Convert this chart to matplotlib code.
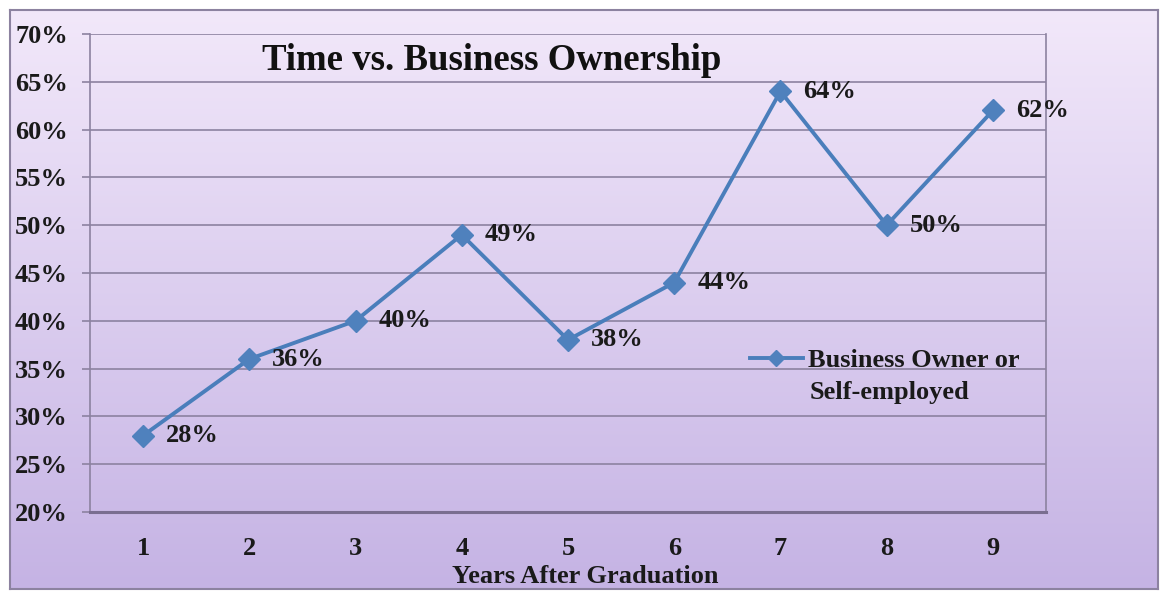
import numpy as np
import matplotlib
matplotlib.use('Agg')
import matplotlib.pyplot as plt
from matplotlib.ticker import FuncFormatter

plt.rcParams['font.family'] = 'Liberation Serif'
plt.rcParams['font.weight'] = 'bold'

# years after graduation vs. share who own a business
years = [1, 2, 3, 4, 5, 6, 7, 8, 9]
owners = [28, 36, 40, 49, 38, 44, 64, 50, 62]
series_name = 'Business Owner or'
series_name2 = 'Self-employed'

W, H = 1162, 594
fig = plt.figure(figsize=(W / 100, H / 100), dpi=100)
fig.patch.set_facecolor('white')

# lavender gradient behind the whole chart
bg = fig.add_axes([10 / W, 5 / H, 1148 / W, 579 / H])
grad = np.linspace(0, 1, 256).reshape(-1, 1)
top = np.array([242, 232, 250]) / 255
bottom = np.array([197, 179, 228]) / 255
img = top + (bottom - top) * grad[:, :, None]
bg.imshow(img, aspect='auto', extent=[0, 1, 0, 1], origin='upper')
bg.set_xticks([])
bg.set_yticks([])
for s in bg.spines.values():
    s.set_color('#8c82a0')
    s.set_linewidth(1.5)

ax = fig.add_axes([90 / W, 82 / H, 956 / W, 478 / H])
ax.set_facecolor('none')
ax.plot(years, owners, color='#4a7ebb', linewidth=2.8, marker='D',
        markersize=11, markerfacecolor='#4f81bd', markeredgecolor='#4f81bd',
        label=series_name, zorder=3)

for x, y in zip(years, owners):
    ax.annotate(f'{y}%', (x, y), xytext=(23, 0), textcoords='offset pixels',
                va='center', ha='left', fontsize=19, color='#1a1a1a')

ax.set_xlim(0.5, 9.5)
ax.set_ylim(20, 70)
ax.set_xticks(years)
ax.set_yticks(range(20, 71, 5))
ax.yaxis.set_major_formatter(FuncFormatter(lambda v, p: f'{v:.0f}%'))
ax.tick_params(axis='y', length=6, width=1.2, color='#8c82a0', pad=10,
               labelsize=19, labelcolor='#1a1a1a')
ax.tick_params(axis='x', length=0, pad=18, labelsize=19, labelcolor='#1a1a1a')
ax.grid(axis='y', color='#8c82a0', linewidth=1.2)
ax.set_axisbelow(True)

ax.spines['left'].set_color('#8c82a0')
ax.spines['left'].set_linewidth(1.2)
ax.spines['right'].set_color('#8c82a0')
ax.spines['right'].set_linewidth(1.2)
ax.spines['top'].set_visible(False)
ax.spines['bottom'].set_color('#7a6e90')
ax.spines['bottom'].set_linewidth(2.2)

fig.text(492 / W, 1 - 70 / H, 'Time vs. Business Ownership', ha='center',
         va='baseline', fontsize=26.5, color='#111111')
fig.text(585 / W, 1 - 583 / H, 'Years After Graduation', ha='center',
         va='baseline', fontsize=19, color='#1a1a1a')

leg = ax.legend(loc='center left', bbox_to_anchor=(750 / W, 1 - 360 / H),
                bbox_transform=fig.transFigure, frameon=False, fontsize=19,
                handlelength=2.0, handletextpad=0.2, borderpad=0,
                borderaxespad=0, labelcolor='#1a1a1a', markerscale=0.75)
fig.text(810 / W, 1 - 392 / H, series_name2, ha='left', va='center',
         fontsize=19, color='#1a1a1a')

fig.savefig('out.png', dpi=100)
